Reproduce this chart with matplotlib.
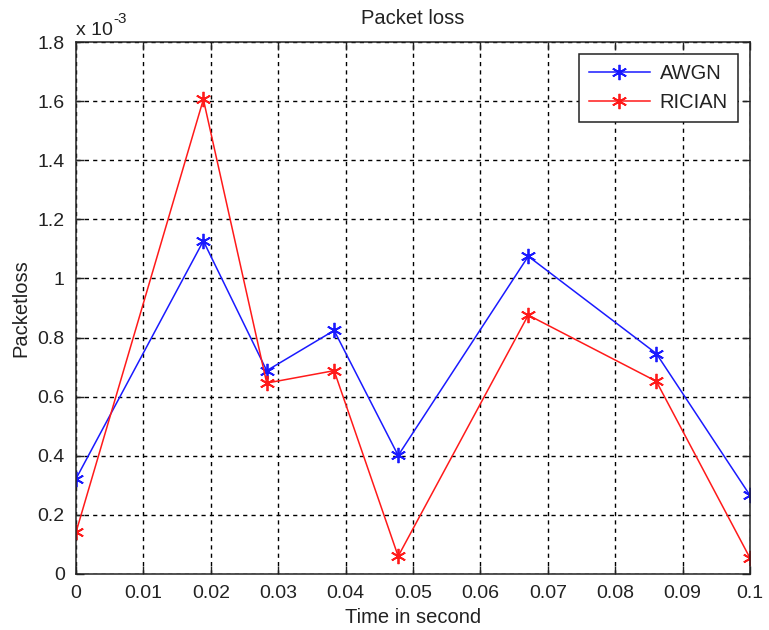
import matplotlib
matplotlib.use('Agg')
import matplotlib.pyplot as plt
from matplotlib.ticker import FuncFormatter

plt.rcParams['font.family'] = ['Liberation Sans', 'DejaVu Sans']

# time samples (s) and packet loss values (x 10^-3)
time_s = [0.0, 0.0189, 0.0283, 0.0383, 0.0478, 0.0671, 0.0861, 0.1]
awgn = [0.322, 1.127, 0.688, 0.824, 0.401, 1.075, 0.746, 0.266]
rician = [0.141, 1.606, 0.646, 0.688, 0.060, 0.876, 0.652, 0.054]

x_ticks = [0, 0.01, 0.02, 0.03, 0.04, 0.05, 0.06, 0.07, 0.08, 0.09, 0.1]
y_ticks = [0, 0.2, 0.4, 0.6, 0.8, 1.0, 1.2, 1.4, 1.6, 1.8]

fig = plt.figure(figsize=(7.69, 6.30), dpi=100)
ax = fig.add_axes([0.0988, 0.0889, 0.8765, 0.8444])

# matlab-like asterisk marker
star = (6, 2, 0)
ax.plot(time_s, awgn, color='#1a1aff', marker=star, markersize=11, markeredgewidth=1.3,
        linewidth=1.1, label='AWGN')
ax.plot(time_s, rician, color='#ff1a1a', marker=star, markersize=11, markeredgewidth=1.3,
        linewidth=1.1, label='RICIAN')

ax.set_xlim(0, 0.1)
ax.set_ylim(0, 1.8)
ax.set_xticks(x_ticks)
ax.set_yticks(y_ticks)
fmt = FuncFormatter(lambda v, p: '%g' % round(v, 4))
ax.xaxis.set_major_formatter(fmt)
ax.yaxis.set_major_formatter(fmt)

ax.grid(True, color='black', linestyle=(0, (3, 3)), linewidth=1.0)
ax.tick_params(direction='in', top=True, right=True, labelsize=14, length=6,
               width=1.0, colors='#222222')
ax.tick_params(axis='x', pad=8)
ax.tick_params(axis='y', pad=8)
for s in ax.spines.values():
    s.set_linewidth(1.1)
    s.set_color('#222222')

ax.set_title('Packet loss', fontsize=14.5, pad=13, color='#222222')
ax.set_xlabel('Time in second', fontsize=14.5, labelpad=4, color='#222222')
ax.set_ylabel('Packetloss', fontsize=14.5, labelpad=5, color='#222222')
ax.text(0.0, 1.006, 'x 10', transform=ax.transAxes, fontsize=14,
        ha='left', va='bottom', color='#222222')
ax.text(0.056, 1.03, '-3', transform=ax.transAxes, fontsize=11,
        ha='left', va='bottom', color='#222222')

leg = ax.legend(loc='upper right', fontsize=14.5, fancybox=False, framealpha=1,
                edgecolor='#222222', borderaxespad=0.6, handlelength=3.0,
                labelspacing=0.5, borderpad=0.5, handletextpad=0.5)
leg.get_frame().set_linewidth(1.1)
for t in leg.get_texts():
    t.set_color('#222222')

fig.savefig('out.png', dpi=100)
